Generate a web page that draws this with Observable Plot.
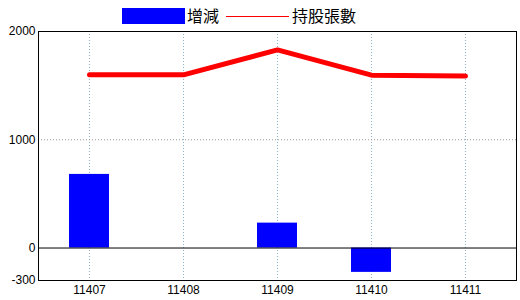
<!DOCTYPE html>
<html>
<head>
<meta charset="utf-8">
<script src="https://cdn.jsdelivr.net/npm/d3@7"></script>
<script src="https://cdn.jsdelivr.net/npm/@observablehq/plot@0.6"></script>
<style>
  html, body { margin: 0; padding: 0; background: #fff; }
  #wrap { position: relative; width: 520px; height: 300px; overflow: hidden; }
  #legend { position: relative; height: 24px; width: 520px; font-family: "Noto Sans CJK TC", sans-serif; font-size: 16px; color: #000; }
  #legend .sw1 { position: absolute; left: 122px; top: 8px; width: 63px; height: 16px; background: #0000ff; }
  #legend .t1 { position: absolute; left: 187px; top: 4px; line-height: 22px; }
  #legend .sw2 { position: absolute; left: 226px; top: 16px; width: 63px; height: 1px; background: #ff0000; }
  #legend .t2 { position: absolute; left: 292px; top: 4px; line-height: 22px; }
</style>
</head>
<body>
<div id="wrap">
  <div id="legend">
    <div class="sw1"></div><div class="t1">增減</div>
    <div class="sw2"></div><div class="t2">持股張數</div>
  </div>
  <div id="chart"></div>
</div>
<script>
const months = ["11407", "11408", "11409", "11410", "11411"];
const changes = [680, 0, 230, -225, 0];
const holdings = [1600, 1600, 1830, 1597, 1588];
const yTicks = [2000, 1000, 0, -300];

const data = months.map((m, i) => ({month: m, change: changes[i], holding: holdings[i]}));

const chart = Plot.plot({
  width: 520,
  height: 276,
  marginLeft: 38,
  marginRight: 4,
  marginTop: 7,
  marginBottom: 20,
  style: {fontFamily: "'Liberation Sans', Arial, sans-serif", fontSize: "12px", color: "#000", background: "#fff"},
  x: {type: "band", domain: months, paddingInner: 0.575, paddingOuter: 0.33, label: null},
  y: {domain: [-300, 2000], label: null},
  marks: [
    Plot.ruleX(months, {x: d => d, stroke: "#8ab4cc", strokeDasharray: "1,2", strokeWidth: 1}),
    Plot.ruleY([1000], {stroke: "#999", strokeDasharray: "1,2", strokeWidth: 1}),
    Plot.barY(data, {x: "month", y: "change", fill: "#0000ff"}),
    Plot.ruleY([0], {stroke: "#000", strokeWidth: 1}),
    Plot.line(data, {x: "month", y: "holding", stroke: "#ff0000", strokeWidth: 5, strokeLinecap: "round", strokeLinejoin: "miter"}),
    Plot.frame({stroke: "#000", strokeWidth: 1}),
    Plot.axisY({ticks: yTicks, tickSize: 0, tickPadding: 3, tickFormat: d => String(d), label: null}),
    Plot.axisX({tickSize: 0, tickPadding: 5, label: null})
  ]
});
document.getElementById("chart").appendChild(chart);
</script>
</body>
</html>
